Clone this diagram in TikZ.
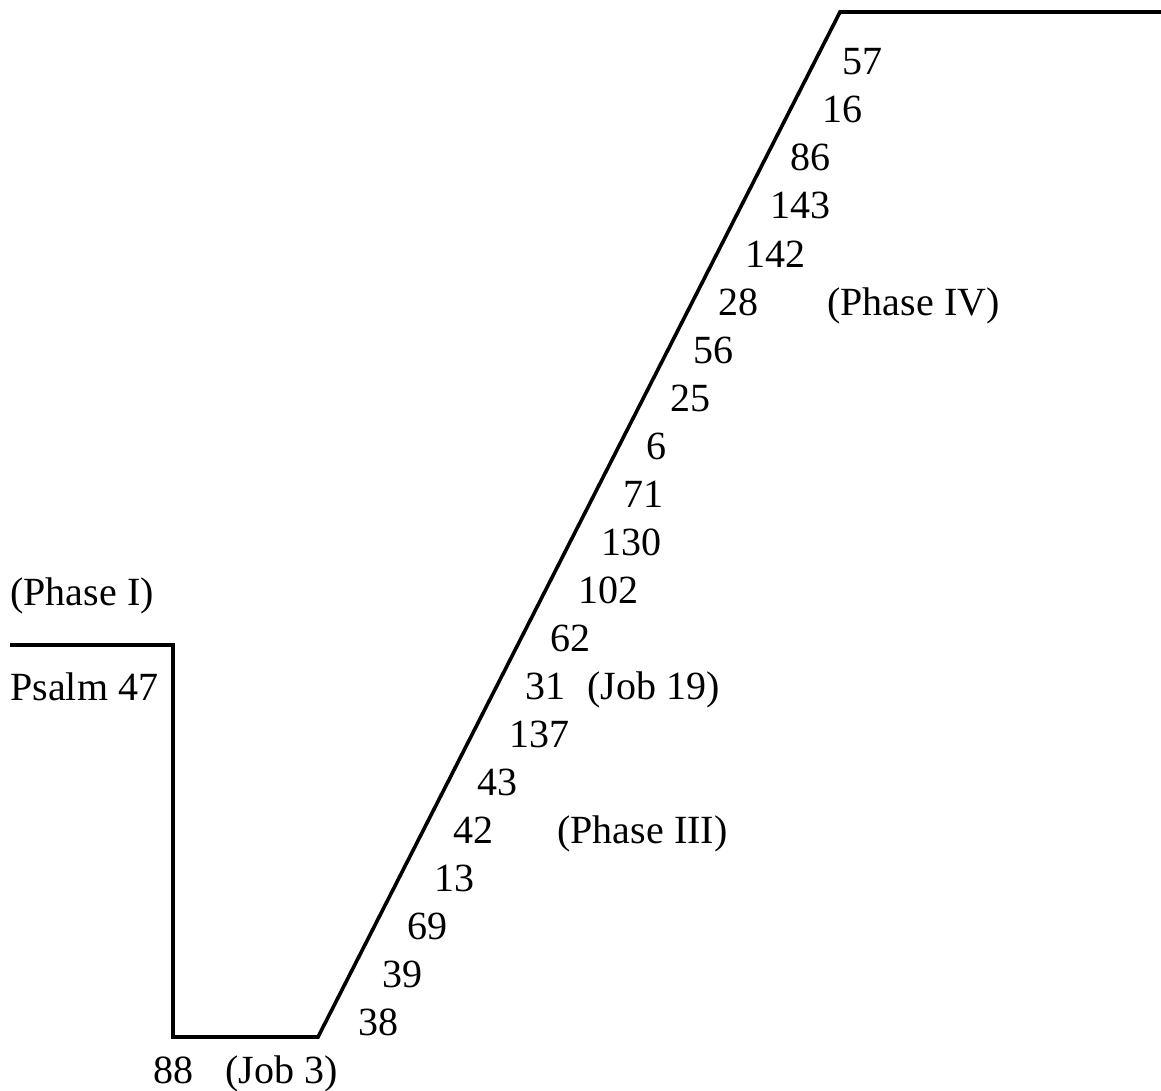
\documentclass[tikz,border=0pt]{standalone}
\usepackage{fontspec}
\setmainfont{Liberation Serif}

\tikzset{
  lbl/.style={anchor=base west, inner sep=0pt, font=\fontsize{20}{24}\selectfont},
  curve/.style={line width=1.8pt, line join=miter}
}

\begin{document}
\begin{tikzpicture}[x=0.5pt,y=-0.5pt]
  \useasboundingbox (0,0) rectangle (1161,1091);
  % corners of the line
  \coordinate (start) at (10,645);
  \coordinate (drop) at (173,645);
  \coordinate (low) at (173,1037);
  \coordinate (rise) at (318,1037);
  \coordinate (top) at (840,12);
  \coordinate (end) at (1161,12);
  \draw[curve] (start) -- (drop) -- (low) -- (rise) -- (top) -- (end);
  % psalm numbers along the rise
  \foreach \n/\x [count=\i from 0] in {57/842,16/822,86/790,143/770,142/745,28/718,
      56/693,25/670,6/646,71/623,130/601,102/578,62/550,31/525,137/509,43/477,
      42/453,13/434,69/407,39/382,38/358} {
    \node[lbl] (ps\n) at (\x,75+48*\i) {\n};
  }
  % phase and job labels
  \node[lbl] (phaseI) at (10,605) {(Phase I)};
  \node[lbl] (ps47) at (10,700) {Psalm 47};
  \node[lbl] (ps88) at (153,1083) {88};
  \node[lbl] (job3) at (225,1083) {(Job 3)};
  \node[lbl] (job19) at (587,699) {(Job 19)};
  \node[lbl] (phaseIII) at (557,843) {(Phase III)};
  \node[lbl] (phaseIV) at (827,315) {(Phase IV)};
\end{tikzpicture}
\end{document}
